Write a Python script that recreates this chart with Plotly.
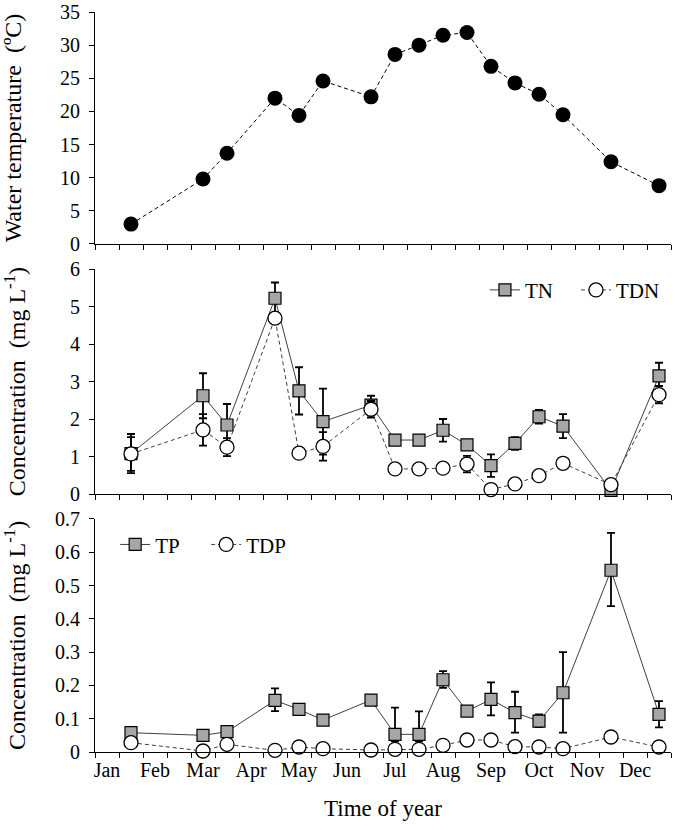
import plotly.graph_objects as go

# ---------------- data ----------------
months = ["Jan", "Feb", "Mar", "Apr", "May", "Jun", "Jul", "Aug", "Sep", "Oct", "Nov", "Dec"]
month_pos = [0.5, 2.5, 4.5, 6.5, 8.5, 10.5, 12.5, 14.5, 16.5, 18.5, 20.5, 22.5]
half_month_ticks = list(range(25))
sample_pos = [1.5, 4.5, 5.5, 7.5, 8.5, 9.5, 11.5, 12.5, 13.5, 14.5, 15.5, 16.5, 17.5, 18.5, 19.5, 21.5, 23.5]

temp = [3.0, 9.8, 13.7, 22.0, 19.4, 24.6, 22.2, 28.6, 30.0, 31.5, 31.9, 26.8, 24.3, 22.6, 19.5, 12.4, 8.8]

tn = [1.08, 2.62, 1.84, 5.22, 2.75, 1.93, 2.37, 1.44, 1.44, 1.70, 1.31, 0.76, 1.35, 2.06, 1.81, 0.10, 3.15]
tn_err = [0.52, 0.60, 0.56, 0.42, 0.63, 0.88, 0.25, 0.05, 0.05, 0.30, 0.05, 0.30, 0.17, 0.18, 0.32, 0.02, 0.35]
tdn = [1.07, 1.71, 1.25, 4.69, 1.09, 1.27, 2.26, 0.67, 0.67, 0.69, 0.80, 0.12, 0.27, 0.49, 0.82, 0.25, 2.65]
tdn_err = [0.45, 0.42, 0.24, 0.10, 0.05, 0.38, 0.22, 0.05, 0.05, 0.05, 0.22, 0.05, 0.05, 0.05, 0.05, 0.05, 0.23]

tp = [0.058, 0.050, 0.061, 0.155, 0.128, 0.096, 0.156, 0.053, 0.053, 0.217, 0.123, 0.158, 0.118, 0.093, 0.178, 0.546, 0.113]
tp_err_plus = [0.005, 0.012, 0.005, 0.036, 0.005, 0.005, 0.005, 0.080, 0.069, 0.026, 0.005, 0.051, 0.063, 0.020, 0.122, 0.112, 0.040]
tp_err_minus = [0.005, 0.012, 0.005, 0.032, 0.005, 0.005, 0.005, 0.020, 0.020, 0.024, 0.005, 0.048, 0.060, 0.018, 0.120, 0.108, 0.039]
tdp = [0.028, 0.003, 0.023, 0.005, 0.015, 0.010, 0.006, 0.008, 0.008, 0.020, 0.036, 0.036, 0.016, 0.015, 0.010, 0.045, 0.015]

# ---------------- style ----------------
FONT = "Liberation Serif"
GRAY = "#a6a6a6"
DASH = "4px,3px"

fig = go.Figure()

# top: water temperature
fig.add_trace(go.Scatter(
    x=sample_pos, y=temp, mode="lines+markers", xaxis="x", yaxis="y",
    line=dict(color="black", width=1, dash=DASH),
    marker=dict(symbol="circle", size=15, color="black"),
    showlegend=False, cliponaxis=False))

# middle: TN / TDN
fig.add_trace(go.Scatter(
    x=sample_pos, y=tn, name="TN", mode="lines+markers", xaxis="x2", yaxis="y2",
    line=dict(color="#404040", width=1),
    marker=dict(symbol="square", size=12, color=GRAY, line=dict(color="black", width=1.2)),
    error_y=dict(type="data", array=tn_err, color="black", thickness=1.8, width=4),
    legend="legend", cliponaxis=False))
fig.add_trace(go.Scatter(
    x=sample_pos, y=tdn, name="TDN", mode="lines+markers", xaxis="x2", yaxis="y2",
    line=dict(color="#404040", width=1, dash=DASH),
    marker=dict(symbol="circle", size=14, color="white", line=dict(color="black", width=1.3)),
    error_y=dict(type="data", array=tdn_err, color="black", thickness=1.8, width=4),
    legend="legend", cliponaxis=False))

# bottom: TP / TDP
fig.add_trace(go.Scatter(
    x=sample_pos, y=tp, name="TP", mode="lines+markers", xaxis="x3", yaxis="y3",
    line=dict(color="#404040", width=1),
    marker=dict(symbol="square", size=12, color=GRAY, line=dict(color="black", width=1.2)),
    error_y=dict(type="data", symmetric=False, array=tp_err_plus, arrayminus=tp_err_minus,
                 color="black", thickness=1.8, width=4),
    legend="legend2", cliponaxis=False))
fig.add_trace(go.Scatter(
    x=sample_pos, y=tdp, name="TDP", mode="lines+markers", xaxis="x3", yaxis="y3",
    line=dict(color="#404040", width=1, dash=DASH),
    marker=dict(symbol="circle", size=14, color="white", line=dict(color="black", width=1.3)),
    legend="legend2", cliponaxis=False))

common_x = dict(range=[0, 24], showgrid=False, zeroline=False, showline=True, automargin=False,
                linecolor="black", linewidth=1, ticks="outside", ticklen=5,
                tickcolor="black", tickwidth=1, tickmode="array", tickvals=half_month_ticks,
                showticklabels=False, fixedrange=True)
common_y = dict(showgrid=False, zeroline=False, showline=True, linecolor="black", linewidth=1,
                automargin=False, ticklabeloverflow="allow",
                ticks="outside", ticklen=5, tickcolor="black", tickwidth=1, ticklabelstandoff=5,
                tickfont=dict(family=FONT, size=20, color="black"), fixedrange=True)
title_font = dict(family=FONT, size=24, color="black")

bottom_x = dict(common_x)
bottom_x.update(tickvals=month_pos, ticktext=months, showticklabels=True, ticks="", ticklen=0,
                ticklabeloverflow="allow",
                tickfont=dict(family=FONT, size=20, color="black"),
                minor=dict(tickmode="array", tickvals=half_month_ticks, ticks="outside",
                           ticklen=5, tickcolor="black", tickwidth=1),
                title=dict(text="Time of year", font=dict(family=FONT, size=23, color="black"),
                           standoff=18))

legend_font = dict(family=FONT, size=21, color="black")

fig.update_layout(
    template="none",
    width=675, height=830,
    margin=dict(l=95, r=4, t=12, b=78, autoexpand=False),
    paper_bgcolor="white", plot_bgcolor="white",
    font=dict(family=FONT, color="black"),
    xaxis=dict(common_x, anchor="y", domain=[0, 1]),
    xaxis2=dict(common_x, anchor="y2", domain=[0, 1]),
    xaxis3=dict(bottom_x, anchor="y3", domain=[0, 1]),
    yaxis=dict(common_y, anchor="x", domain=[0.6865, 1.0], range=[0, 35], dtick=5,
               title=dict(text="Water temperature\u00a0\u00a0(ºC)", font=title_font, standoff=38)),
    yaxis2=dict(common_y, anchor="x2", domain=[0.3486, 0.6527], range=[0, 6], dtick=1,
                title=dict(text="Concentration\u00a0\u00a0(mg L<sup>-1</sup>)", font=title_font, standoff=52)),
    yaxis3=dict(common_y, anchor="x3", domain=[0.0, 0.3149], range=[0, 0.7], dtick=0.1,
                title=dict(text="Concentration\u00a0\u00a0(mg L<sup>-1</sup>)", font=title_font, standoff=34)),
    legend=dict(orientation="h", x=0.677, xanchor="left", y=0.624, yanchor="middle",
                font=legend_font, bgcolor="rgba(0,0,0,0)", itemwidth=30, entrywidth=46),
    legend2=dict(orientation="h", x=0.035, xanchor="left", y=0.280, yanchor="middle",
                 font=legend_font, bgcolor="rgba(0,0,0,0)", itemwidth=30, entrywidth=46),
)

# remove the browser's default 8px page margin so the 675x830 figure fills the window exactly
fig.write_html("out.html",
               config={"displayModeBar": False},
               post_script="document.body.style.margin='0';document.body.style.overflow='hidden';")
